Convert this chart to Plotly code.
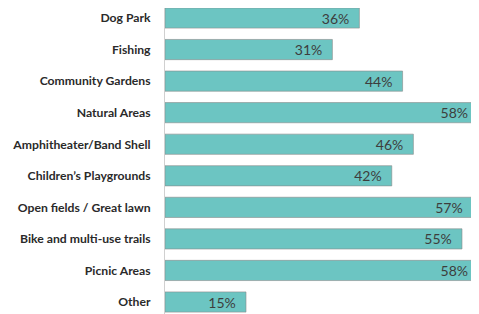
import plotly.graph_objects as go

categories = ["Dog Park", "Fishing", "Community Gardens", "Natural Areas",
              "Amphitheater/Band Shell", "Children’s Playgrounds",
              "Open fields / Great lawn", "Bike and multi-use trails",
              "Picnic Areas", "Other"]
values = [36, 31, 44, 58, 46, 42, 57, 55, 58, 15]

fig = go.Figure()
fig.add_trace(go.Bar(
    x=values, y=categories, orientation="h",
    marker=dict(color="#6CC5C2", line=dict(color="#8a8a8a", width=0.6)),
    width=0.64,
    text=[f"{v}%\u00a0\u00a0" for v in values],
    textposition="inside", insidetextanchor="end",
    constraintext="none",
    textfont=dict(family="Lato, Open Sans, sans-serif", size=14, color="#3d3d3d"),
    cliponaxis=False,
))
fig.update_layout(
    width=471, height=306,
    margin=dict(l=157, r=0, t=0, b=0, autoexpand=False),
    paper_bgcolor="white", plot_bgcolor="white",
    showlegend=False,
    xaxis=dict(range=[0, 58.15], visible=False, automargin=False),
    yaxis=dict(categoryorder="array", categoryarray=categories,
               range=[9.38, -0.317], showgrid=False, ticks="",
               automargin=False,
               showline=True, linecolor="#d0d0d0", linewidth=1,
               ticklabelstandoff=11,
               tickfont=dict(family="Lato, Open Sans, sans-serif", size=12.2, color="#2a2a2a", weight="bold")),
)
fig.write_html("out.html")
